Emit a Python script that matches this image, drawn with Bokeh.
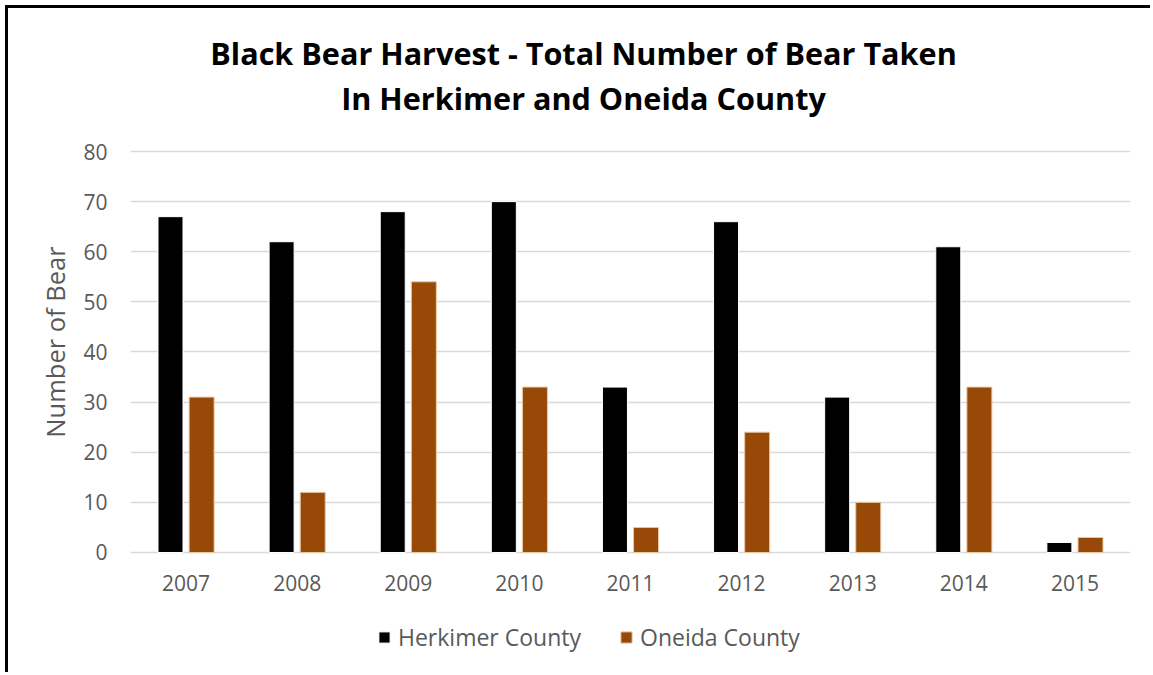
from bokeh.plotting import figure
from bokeh.models import FactorRange, Label, Legend, LegendItem, ColumnDataSource
from bokeh.transform import dodge
from bokeh.embed import file_html
from bokeh.resources import INLINE

years = ["2007", "2008", "2009", "2010", "2011", "2012", "2013", "2014", "2015"]
herkimer = [67, 62, 68, 70, 33, 66, 31, 61, 2]
oneida = [31, 12, 54, 33, 5, 24, 10, 33, 3]
series_names = ["Herkimer County", "Oneida County"]
title_lines = ["Black Bear Harvest - Total Number of Bear Taken", "In Herkimer and Oneida County"]
y_label = "Number of Bear"
y_ticks = [0, 10, 20, 30, 40, 50, 60, 70, 80]

FONT = "Open Sans"
TXT = "#595959"
BLACK = "#000000"
BROWN = "#984807"

src = ColumnDataSource(dict(year=years, herkimer=herkimer, oneida=oneida))

# frame spans the full canvas height so that title and legend (drawn inside the frame) are not clipped
p = figure(width=1145, height=667, x_range=FactorRange(*years), y_range=(-24.54, 108.53),
           output_backend="svg", toolbar_location=None,
           min_border_left=122, min_border_right=23, min_border_top=0, min_border_bottom=0)
p.styles = {"margin-left": "5px", "margin-top": "5px",
            "border-left": "3px solid black", "border-top": "3px solid black"}
p.outline_line_color = None
p.background_fill_color = "white"
p.border_fill_color = "white"

r1 = p.vbar(x=dodge("year", -0.14, range=p.x_range), top="herkimer", width=0.225, source=src,
            fill_color=BLACK, line_color="white", line_width=1)
r2 = p.vbar(x=dodge("year", 0.14, range=p.x_range), top="oneida", width=0.225, source=src,
            fill_color=BROWN, line_color="#e6c9a8", line_width=1)

p.xgrid.grid_line_color = None
p.ygrid.grid_line_color = "#d9d9d9"
p.ygrid.grid_line_width = 1.5
p.yaxis.ticker = y_ticks
p.xaxis.fixed_location = 0

for ax in (p.xaxis[0], p.yaxis[0]):
    ax.axis_line_color = None
    ax.major_tick_line_color = None
    ax.minor_tick_line_color = None
    ax.major_label_text_font = FONT
    ax.major_label_text_font_size = "21px"
    ax.major_label_text_color = TXT
p.xaxis.major_label_standoff = 17
p.yaxis.major_label_standoff = 17
p.yaxis.axis_label = y_label
p.yaxis.axis_label_text_font = FONT
p.yaxis.axis_label_text_font_size = "25.5px"
p.yaxis.axis_label_text_font_style = "normal"
p.yaxis.axis_label_text_color = TXT
p.yaxis.axis_label_standoff = 8

p.add_layout(Label(x=4.077, y=99.75, text=title_lines[0], text_align="center", text_baseline="middle",
                   text_font=FONT, text_font_size="30.6px", text_font_style="bold", text_color=BLACK))
p.add_layout(Label(x=4.077, y=90.77, text=title_lines[1], text_align="center", text_baseline="middle",
                   text_font=FONT, text_font_size="30.6px", text_font_style="bold", text_color=BLACK))

legend = Legend(items=[LegendItem(label=series_names[0], renderers=[r1]),
                       LegendItem(label=series_names[1], renderers=[r2])],
                orientation="horizontal", location=(247, 22),
                label_text_font=FONT, label_text_font_size="23px", label_text_color=TXT,
                glyph_width=14, glyph_height=14, label_standoff=7, spacing=38,
                padding=0, margin=0, border_line_color=None, background_fill_alpha=0)
p.add_layout(legend, "center")

open("out.html", "w").write(file_html(p, INLINE))
